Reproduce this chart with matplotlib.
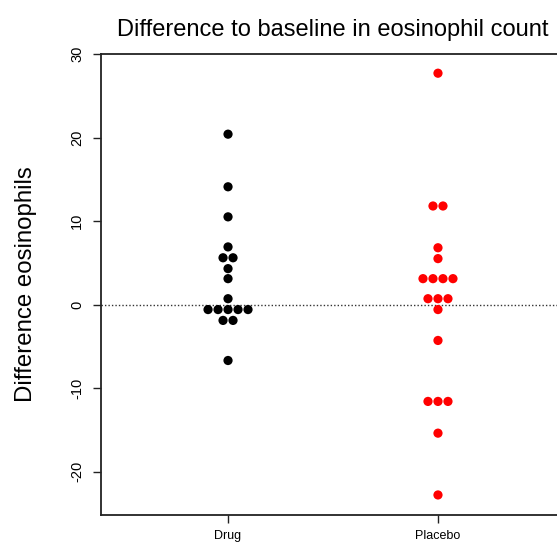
import numpy as np
import matplotlib
matplotlib.use("Agg")
import matplotlib.pyplot as plt

plt.rcParams['font.family'] = ['Liberation Sans', 'DejaVu Sans']

categories = ["Drug", "Placebo"]
drug = [20.4, 14.1, 10.5, 6.9, 5.6, 5.6, 4.3, 3.1, 0.7,
        -0.6, -0.6, -0.6, -0.6, -0.6, -1.9, -1.9, -6.7]
placebo = [27.7, 11.8, 11.8, 6.8, 5.5, 3.1, 3.1, 3.1, 3.1,
           0.7, 0.7, 0.7, -0.6, -4.3, -11.6, -11.6, -11.6, -15.4, -22.8]
colors = ["black", "red"]
yticks = [-20, -10, 0, 10, 20, 30]

fig = plt.figure(figsize=(5.57, 5.46), dpi=100)
ax = fig.add_axes([101/557, 31/546, (565-101)/557, (515-54)/546])
ax.set_xlim(0.395, 2.605)
ax.set_ylim(-25.2, 30)

spacing = 0.0476
for i, (vals, c) in enumerate(zip([drug, placebo], colors)):
    vals = np.array(vals)
    xs = np.zeros(len(vals))
    for v in np.unique(vals):
        idx = np.where(vals == v)[0]
        n = len(idx)
        xs[idx] = (i + 1) + (np.arange(n) - (n - 1) / 2) * spacing
    ax.scatter(xs, vals, s=44, color=c, edgecolors='none', zorder=3)

ax.axhline(0, color='#333333', linestyle=(0, (1, 1.5)), linewidth=1.0, zorder=1)

ax.set_xticks([1, 2])
ax.set_xticklabels(categories, fontsize=9)
ax.set_yticks(yticks)
ax.set_yticklabels([str(t) for t in yticks], rotation=90, va='center', fontsize=10.5)
ax.tick_params(axis='both', length=6, width=1, color='#222222', pad=6)
ax.tick_params(axis='x', pad=5)
for sp in ax.spines.values():
    sp.set_linewidth(1.3)
    sp.set_color('#222222')

ax.set_ylabel("Difference eosinophils", fontsize=17.3, labelpad=24)
ax.set_title("Difference to baseline in eosinophil count", fontsize=17, pad=13)

fig.savefig("out.png", dpi=100)
